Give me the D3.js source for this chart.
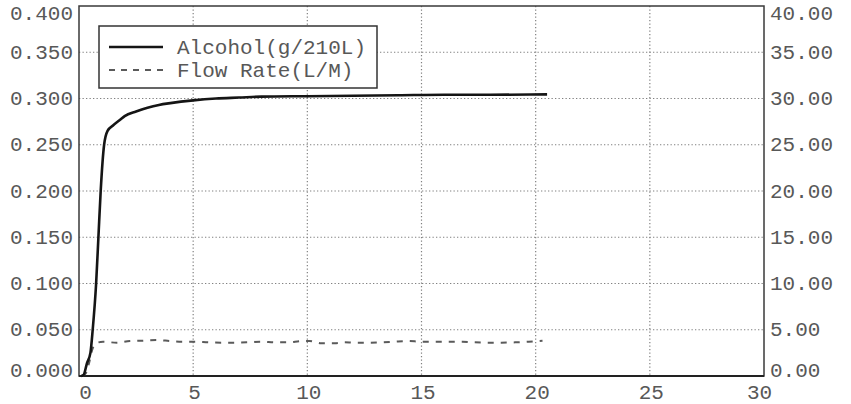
<!DOCTYPE html>
<html>
<head>
<meta charset="utf-8">
<script src="https://cdn.jsdelivr.net/npm/d3@7"></script>
<style>
  body { margin: 0; background: #fff; }
  svg { display: block; }
</style>
</head>
<body>
<svg class="chart" width="851" height="404"></svg>
<script>
// data
const alcoholT = [0.1, 0.2, 0.35, 0.5, 0.6, 0.75, 0.85, 0.95, 1.1, 1.25, 1.5, 1.8, 2.0, 2.5, 3.0, 3.5, 4, 5, 6, 7, 8, 10, 12, 14, 16, 18, 20.5]
const alcoholV = [0, 0.001, 0.014, 0.025, 0.05, 0.1, 0.15, 0.2, 0.25, 0.265, 0.271, 0.277, 0.281, 0.286, 0.290, 0.293, 0.295, 0.298, 0.300, 0.301, 0.302, 0.3025, 0.303, 0.3035, 0.304, 0.304, 0.3045]

const flowT = [0.15, 0.3, 0.45, 0.6, 0.8, 1.05, 1.66, 2.23, 2.8, 3.4, 4.0, 4.5, 5.08, 5.65, 6.26, 6.83, 7.4, 8.0, 8.6, 9.15, 9.77, 10.1, 10.6, 11.2, 11.6, 12.1, 12.7, 13.3, 13.8, 14.4, 15.0, 15.6, 16.2, 16.8, 17.3, 17.9, 18.5, 19.1, 19.7, 20.3]
const flowV = [0, 0.3, 1.5, 3.0, 3.6, 3.7, 3.6, 3.78, 3.82, 3.89, 3.78, 3.71, 3.71, 3.64, 3.6, 3.6, 3.64, 3.71, 3.64, 3.64, 3.78, 3.78, 3.54, 3.54, 3.64, 3.6, 3.6, 3.64, 3.71, 3.78, 3.71, 3.71, 3.71, 3.71, 3.64, 3.6, 3.6, 3.64, 3.71, 3.82]

const xTicks = [0, 5, 10, 15, 20, 25, 30]
const leftTicks = [0, 0.05, 0.1, 0.15, 0.2, 0.25, 0.3, 0.35, 0.4]
const rightTicks = [0, 5, 10, 15, 20, 25, 30, 35, 40]
const legendLabels = ["Alcohol(g/210L)", "Flow Rate(L/M)"]

// plot box
const pLeft = 79, pRight = 764, pTop = 6, pBottom = 376
const font = "'Liberation Mono', 'Courier New', monospace"

const x = d3.scaleLinear().domain([0, 30]).range([pLeft, pRight])
const yL = d3.scaleLinear().domain([0, 0.4]).range([pBottom, pTop])
const yR = d3.scaleLinear().domain([0, 40]).range([pBottom, pTop])

const svg = d3.select(".chart")

// grid lines (dotted)
const grid = svg.append("g")
grid.selectAll("line.v")
  .data(xTicks.slice(1, -1))
  .enter().append("line")
    .attr("x1", d => x(d)).attr("x2", d => x(d))
    .attr("y1", pTop).attr("y2", pBottom)
grid.selectAll("line.h")
  .data(leftTicks.slice(1, -1))
  .enter().append("line")
    .attr("x1", pLeft).attr("x2", pRight)
    .attr("y1", d => yL(d)).attr("y2", d => yL(d))
grid.selectAll("line")
  .attr("stroke", "#808080")
  .attr("stroke-width", 1.2)
  .attr("stroke-dasharray", "1.3,2.2")

// tick labels through d3 axes, no tick lines or domain
function clampY(y) { return Math.max(pTop + 7, Math.min(pBottom - 6, y)) }

const gx = svg.append("g")
  .attr("transform", "translate(0," + pBottom + ")")
  .call(d3.axisBottom(x).tickValues(xTicks).tickSize(0).tickPadding(0).tickFormat(d3.format("d")))
const gl = svg.append("g")
  .attr("transform", "translate(" + pLeft + ",0)")
  .call(d3.axisLeft(yL).tickValues(leftTicks).tickSize(0).tickPadding(6).tickFormat(d3.format(".3f")))
const gr = svg.append("g")
  .attr("transform", "translate(" + pRight + ",0)")
  .call(d3.axisRight(yR).tickValues(rightTicks).tickSize(0).tickPadding(6).tickFormat(d3.format(".2f")))

;[gx, gl, gr].forEach(g => {
  g.select(".domain").remove()
  g.selectAll("text")
    .attr("font-family", font)
    .attr("font-size", 21)
    .attr("fill", "#585858")
})
gx.selectAll("text").attr("dy", null).attr("y", 23)
  .attr("dx", d => d == 0 ? 6 : d == 30 ? -5 : 1)
gl.selectAll(".tick").attr("transform", d => "translate(0," + clampY(yL(d)) + ")")
gr.selectAll(".tick").attr("transform", d => "translate(0," + clampY(yR(d)) + ")")

// plot border
svg.append("rect")
  .attr("x", pLeft).attr("y", pTop)
  .attr("width", pRight - pLeft).attr("height", pBottom - pTop)
  .attr("fill", "none")
  .attr("stroke", "#3a3a3a")
  .attr("stroke-width", 1.5)
svg.append("line")
  .attr("x1", pLeft).attr("x2", pRight)
  .attr("y1", pBottom).attr("y2", pBottom)
  .attr("stroke", "#222")
  .attr("stroke-width", 2)

// series
const flowLine = d3.line().x(d => x(d[0])).y(d => yR(d[1])).curve(d3.curveMonotoneX)
svg.append("path")
  .datum(d3.zip(flowT, flowV))
  .attr("d", flowLine)
  .attr("fill", "none")
  .attr("stroke", "#5a5a5a")
  .attr("stroke-width", 2)
  .attr("stroke-dasharray", "6,7")

const alcLine = d3.line().x(d => x(d[0])).y(d => yL(d[1])).curve(d3.curveMonotoneX)
svg.append("path")
  .datum(d3.zip(alcoholT, alcoholV))
  .attr("d", alcLine)
  .attr("fill", "none")
  .attr("stroke", "#151515")
  .attr("stroke-width", 2.6)
  .attr("stroke-linejoin", "round")

// legend
const legend = svg.append("g")
legend.append("rect")
  .attr("x", 99).attr("y", 26)
  .attr("width", 278).attr("height", 62)
  .attr("fill", "#fff")
  .attr("stroke", "#333")
  .attr("stroke-width", 1.5)

const rows = legend.selectAll("g.row")
  .data(legendLabels)
  .enter().append("g")
    .attr("transform", (d, i) => "translate(0," + (47 + i * 23) + ")")
rows.append("line")
  .attr("x1", 109).attr("x2", 163)
  .attr("stroke", (d, i) => i == 0 ? "#151515" : "#5a5a5a")
  .attr("stroke-width", (d, i) => i == 0 ? 2.6 : 1.8)
  .attr("stroke-dasharray", (d, i) => i == 0 ? null : "6,6")
rows.append("text")
  .attr("x", 177)
  .attr("dy", "0.35em")
  .attr("font-family", font)
  .attr("font-size", 21)
  .attr("fill", "#585858")
  .text(d => d)
</script>
</body>
</html>
